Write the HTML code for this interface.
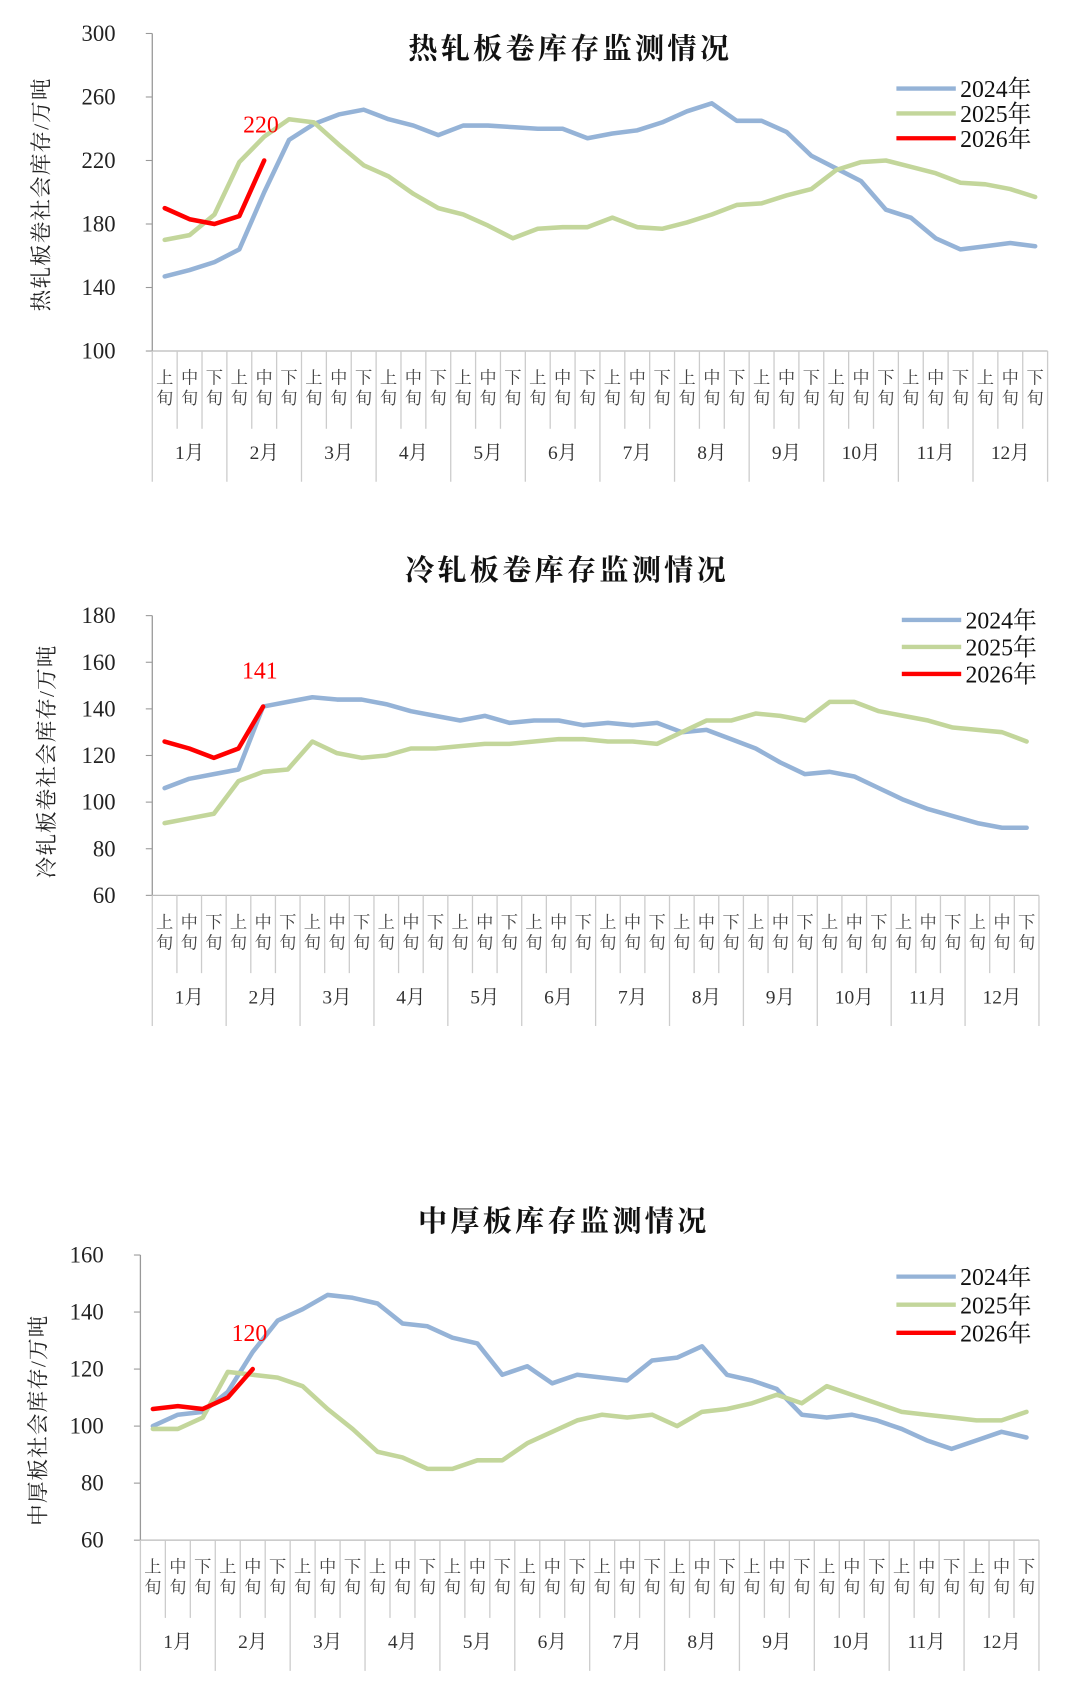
<!DOCTYPE html>
<html><head><meta charset="utf-8">
<style>
html,body{margin:0;padding:0;background:#fff;}
svg{display:block;}
text{font-family:"Liberation Serif","Noto Serif CJK SC","Noto Sans CJK SC",serif;}
</style></head>
<body>
<svg id="s" width="1080" height="1700" viewBox="0 0 1000 1574" preserveAspectRatio="none" xmlns="http://www.w3.org/2000/svg"></svg>
<script>
const S=document.getElementById('s');
let h='';
const C={b:'#95b3d7',g:'#c3d69b',r:'#ff0000'};
function chart(o){
  const n=36,w=(o.x1-o.x0)/n;
  const Y=v=>o.yb-(v-o.vmin)/(o.vmax-o.vmin)*(o.yb-o.yt);
  const X=i=>o.x0+w*(i+0.5);
  h+=`<text x="${o.tx}" y="${o.ty}" font-size="27" font-weight="bold" text-anchor="middle" fill="#111" letter-spacing="3">${o.title}</text>`;
  h+=`<line x1="${o.x0}" y1="${o.yt}" x2="${o.x0}" y2="${o.yb}" stroke="#999" stroke-width="1.2"/>`;
  for(let v=o.vmin;v<=o.vmax;v+=o.step){
    const y=Y(v);
    h+=`<line x1="${o.x0-6}" y1="${y}" x2="${o.x0}" y2="${y}" stroke="#999"/>`;
    h+=`<text x="${o.x0-34}" y="${y+7}" font-size="21" text-anchor="end" fill="#222">${v}</text>`;
  }
  h+=`<line x1="${o.x0}" y1="${o.yb}" x2="${o.x1}" y2="${o.yb}" stroke="#bbb" stroke-width="1.2"/>`;
  for(let i=0;i<=n;i++){
    const x=o.x0+w*i; const big=i%3==0;
    h+=`<line x1="${x}" y1="${o.yb}" x2="${x}" y2="${big?o.yb+121:o.yb+72}" stroke="#ccc" stroke-width="1.2"/>`;
  }
  const sub=['上','中','下'];
  for(let i=0;i<n;i++){
    h+=`<text x="${X(i)}" y="${o.yb+30}" font-size="16" text-anchor="middle" fill="#444">${sub[i%3]}</text>`;
    h+=`<text x="${X(i)}" y="${o.yb+49}" font-size="16" text-anchor="middle" fill="#444">旬</text>`;
  }
  for(let m=0;m<12;m++){
    h+=`<text x="${X(m*3+1)}" y="${o.yb+100}" font-size="18" text-anchor="middle" fill="#333">${m+1}月</text>`;
  }
  h+=`<text transform="translate(${o.lx},${o.ly}) rotate(-90)" font-size="20" text-anchor="middle" fill="#222" letter-spacing="1">${o.ylab}</text>`;
  const line=(d,c)=>{h+=`<polyline fill="none" stroke="${c}" stroke-width="4.2" stroke-linejoin="round" stroke-linecap="round" points="${d.map((v,i)=>X(i)+','+Y(v)).join(' ')}"/>`;};
  line(o.a,C.b);line(o.c,C.g);line(o.d,C.r);
  h+=`<text x="${X(4)-3}" y="${Y(o.d[4])-26}" font-size="22" text-anchor="middle" fill="#ff0000">${o.d[4]}</text>`;
  [['2024年',C.b],['2025年',C.g],['2026年',C.r]].forEach((l,k)=>{
    const y=o.gy+k*o.gd;
    h+=`<line x1="${o.gx}" y1="${y}" x2="${o.gx+55}" y2="${y}" stroke="${l[1]}" stroke-width="4"/>`;
    h+=`<text x="${o.gx+59}" y="${y+8}" font-size="22" fill="#111">${l[0]}</text>`;
  });
}
chart({title:'热轧板卷库存监测情况',tx:528,ty:54,x0:141,x1:970,yt:31,yb:325,vmin:100,vmax:300,step:40,
lx:45,ly:180,ylab:'热轧板卷社会库存/万吨',gx:830,gy:82,gd:23,
a:[147,151,156,164,200,233,243,249,252,246,242,236,242,242,241,240,240,234,237,239,244,251,256,245,245,238,223,215,207,189,184,171,164,166,168,166],
c:[170,173,186,219,235,246,244,230,217,210,199,190,186,179,171,177,178,178,184,178,177,181,186,192,193,198,202,214,219,220,216,212,206,205,202,197],
d:[190,183,180,185,220]});
chart({title:'冷轧板卷库存监测情况',tx:525,ty:537,x0:141,x1:962,yt:570,yb:829,vmin:60,vmax:180,step:20,
lx:50,ly:705,ylab:'冷轧板卷社会库存/万吨',gx:835,gy:574,gd:25,
a:[106,110,112,114,141,143,145,144,144,142,139,137,135,137,134,135,135,133,134,133,134,130,131,127,123,117,112,113,111,106,101,97,94,91,89,89],
c:[91,93,95,109,113,114,126,121,119,120,123,123,124,125,125,126,127,127,126,126,125,130,135,135,138,137,135,143,143,139,137,135,132,131,130,126],
d:[126,123,119,123,141]});
chart({title:'中厚板库存监测情况',tx:522,ty:1140,x0:130,x1:962,yt:1162,yb:1426,vmin:60,vmax:160,step:20,
lx:42,ly:1315,ylab:'中厚板社会库存/万吨',gx:830,gy:1182,gd:26,
a:[100,104,105,112,126,137,141,146,145,143,136,135,131,129,118,121,115,118,117,116,123,124,128,118,116,113,104,103,104,102,99,95,92,95,98,96],
c:[99,99,103,119,118,117,114,106,99,91,89,85,85,88,88,94,98,102,104,103,104,100,105,106,108,111,108,114,111,108,105,104,103,102,102,105],
d:[106,107,106,110,120]});
S.innerHTML=h;
</script>
</body></html>
